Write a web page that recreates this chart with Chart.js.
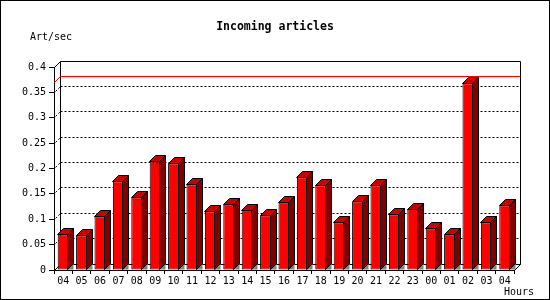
<!DOCTYPE html>
<html><head><meta charset="utf-8">
<script src="https://cdn.jsdelivr.net/npm/chart.js@4/dist/chart.umd.min.js"></script>
<style>html,body{margin:0;padding:0;background:#fff;overflow:hidden}canvas{display:block}</style>
</head><body>
<canvas id="c" width="550" height="300"></canvas>
<script>
const hours = ['04','05','06','07','08','09','10','11','12','13','14','15','16','17','18','19','20','21','22','23','00','01','02','03','04'];
const artPerSec = [0.070,0.068,0.106,0.175,0.143,0.214,0.210,0.169,0.116,0.129,0.118,0.108,0.133,0.183,0.167,0.094,0.135,0.167,0.110,0.120,0.082,0.070,0.368,0.094,0.127];
const maxRate = 0.37;
const yMin = 0, yMax = 0.4, yStep = 0.05;
const titleText = 'Incoming articles';
const yUnit = 'Art/sec';
const xUnit = 'Hours';

const DEPTH = 6;
const MONO = '"DejaVu Sans Mono", "Liberation Mono", monospace';
const a = v => Math.round(v - 0.5) + 0.5;

function poly(ctx, pts, fill, stroke) {
  ctx.beginPath();
  ctx.moveTo(pts[0][0], pts[0][1]);
  for (let i = 1; i < pts.length; i++) ctx.lineTo(pts[i][0], pts[i][1]);
  ctx.closePath();
  if (fill) { ctx.fillStyle = fill; ctx.fill(); }
  if (stroke) { ctx.strokeStyle = stroke; ctx.lineWidth = 1; ctx.stroke(); }
}

const jp3d = {
  id: 'jp3d',
  beforeDraw(chart) {
    const ctx = chart.ctx;
    ctx.save();
    ctx.fillStyle = '#fff';
    ctx.fillRect(0, 0, chart.width, chart.height);
    ctx.strokeStyle = '#000'; ctx.lineWidth = 1;
    ctx.strokeRect(0.5, 0.5, chart.width - 1, chart.height - 1);
    ctx.fillStyle = '#000';
    ctx.textBaseline = 'middle';
    ctx.font = 'bold 11.5px ' + MONO;
    ctx.textAlign = 'center';
    ctx.fillText(titleText, 275, 27);
    ctx.font = '10px ' + MONO;
    ctx.textAlign = 'left';
    ctx.fillText(yUnit, 30, 37);
    ctx.textAlign = 'right';
    ctx.fillText(xUnit, 534, 292);
    ctx.restore();
  },
  beforeDatasetsDraw(chart) {
    const ctx = chart.ctx;
    const {left, right, top, bottom} = chart.chartArea;
    const ys = chart.scales.y;
    const d = DEPTH;
    ctx.save();
    ctx.lineWidth = 1;
    // dotted grid on back wall and side wall
    ctx.strokeStyle = '#000';
    ctx.setLineDash([2, 2]);
    for (let v = yMin + yStep; v < yMax - 1e-9; v += yStep) {
      const y = ys.getPixelForValue(v);
      ctx.beginPath();
      ctx.moveTo(a(left + d), a(y - d));
      ctx.lineTo(a(right + d), a(y - d));
      ctx.stroke();
      ctx.beginPath();
      ctx.moveTo(a(left) + 1, a(y) - 1);
      ctx.lineTo(a(left + d), a(y - d));
      ctx.stroke();
    }
    ctx.setLineDash([]);
    // walls
    ctx.beginPath();
    ctx.rect(a(left + d), a(top - d), Math.round(right - left), Math.round(bottom - top));
    ctx.moveTo(a(left), a(top)); ctx.lineTo(a(left + d), a(top - d));
    ctx.moveTo(a(left), a(bottom)); ctx.lineTo(a(left + d), a(bottom - d));
    ctx.moveTo(a(right), a(bottom)); ctx.lineTo(a(right + d), a(bottom - d));
    ctx.stroke();
    // max line
    const ym = ys.getPixelForValue(maxRate);
    ctx.strokeStyle = '#ff0000';
    ctx.beginPath();
    ctx.moveTo(a(left), a(ym));
    ctx.lineTo(a(left + d), a(ym - d));
    ctx.lineTo(a(right + d), a(ym - d));
    ctx.stroke();
    ctx.restore();
  },
  afterDatasetsDraw(chart) {
    const ctx = chart.ctx;
    const d = DEPTH;
    const meta = chart.getDatasetMeta(0);
    ctx.save();
    meta.data.forEach(bar => {
      const p = bar.getProps(['x', 'y', 'base', 'width'], true);
      const l = a(p.x - p.width / 2), r = a(p.x + p.width / 2) - 1;
      const t = a(p.y), b = a(p.base);
      poly(ctx, [[r, b], [r + d, b - d], [r + d, b]], '#808080', null);
      poly(ctx, [[r, t], [r + d, t - d], [r + d, b - d], [r, b]], '#800000', '#000');
      poly(ctx, [[l, t], [l + d, t - d], [r + d, t - d], [r, t]], '#cc0000', '#000');
    });
    ctx.restore();
  }
};

new Chart(document.getElementById('c'), {
  type: 'bar',
  data: {
    labels: hours,
    datasets: [{
      data: artPerSec,
      backgroundColor: '#ff0000',
      borderColor: '#000000',
      borderWidth: 1,
      borderSkipped: false,
      barPercentage: 0.6,
      categoryPercentage: 1.0
    }]
  },
  options: {
    responsive: false,
    animation: false,
    devicePixelRatio: 1,
    layout: {padding: {top: 67, right: 36, bottom: 0, left: 0}},
    plugins: {legend: {display: false}, tooltip: {enabled: false}, title: {display: false}},
    scales: {
      x: {
        type: 'category',
        offset: true,
        afterFit(s) { s.height = 30; },
        grid: {display: true, offset: true, drawOnChartArea: false, drawTicks: true, tickLength: 4, color: '#000'},
        border: {display: true, color: '#000', width: 1},
        ticks: {color: '#000', font: {family: MONO, size: 10}, autoSkip: false, maxRotation: 0, padding: 1}
      },
      y: {
        min: yMin, max: yMax,
        afterFit(s) { s.width = 54; },
        grid: {display: true, drawOnChartArea: false, drawTicks: true, tickLength: 5, color: '#000'},
        border: {display: true, color: '#000', width: 1},
        ticks: {stepSize: yStep, color: '#000', font: {family: MONO, size: 10}, padding: 3,
          callback: v => String(+Number(v).toFixed(2))}
      }
    }
  },
  plugins: [jp3d]
});
</script>
</body></html>
